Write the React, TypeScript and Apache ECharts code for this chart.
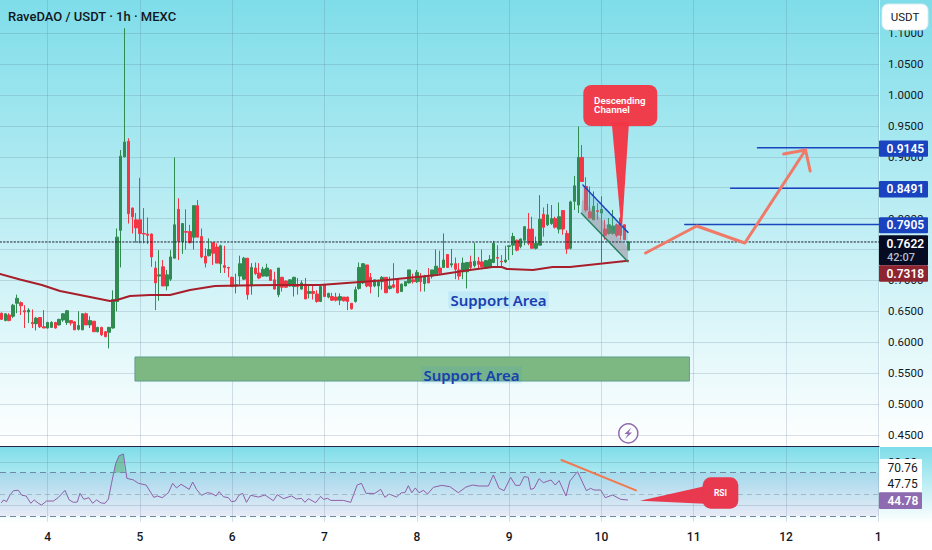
import React, { useEffect, useRef } from "react";
import * as echarts from "echarts";

const firstHour = -12;
// [open, close, low, high]
const candles: number[][] = [
[.647,.637,.636,.648],[.635,.646,.634,.647],[.644,.635,.634,.647],[.642,.660,.639,.662],[.663,.671,.647,.677],[.664,.659,.644,.666],[.651,.649,.623,.660],[.649,.652,.631,.655],[.632,.630,.623,.653],[.630,.639,.619,.641],
[.640,.625,.623,.640],[.625,.623,.623,.652],[.623,.632,.622,.633],[.624,.632,.623,.634],[.632,.623,.622,.633],[.628,.637,.627,.638],[.636,.646,.633,.647],[.632,.651,.628,.652],[.635,.631,.627,.636],[.633,.620,.620,.634],
[.621,.627,.619,.650],[.620,.646,.620,.647],[.646,.628,.628,.648],[.628,.635,.623,.642],[.634,.617,.617,.634],[.617,.624,.616,.625],[.624,.612,.610,.625],[.617,.609,.608,.618],[.616,.624,.590,.625],[.623,.669,.622,.684],
[.666,.770,.650,.784],[.781,.901,.721,.911],[.900,.924,.899,1.108],[.925,.808,.792,.930],[.817,.803,.776,.818],[.798,.785,.761,.809],[.798,.776,.760,.866],[.776,.775,.760,.817],[.775,.773,.759,.802],[.775,.738,.722,.776],
[.720,.696,.652,.731],[.707,.709,.667,.749],[.722,.691,.691,.733],[.691,.709,.684,.717],[.702,.738,.699,.749],[.736,.790,.736,.899],[.815,.763,.733,.833],[.763,.792,.743,.793],[.779,.778,.750,.815],[.779,.761,.760,.790],
[.770,.821,.750,.821],[.821,.770,.770,.830],[.771,.738,.736,.784],[.739,.728,.721,.752],[.740,.750,.739,.768],[.761,.744,.725,.761],[.754,.728,.728,.760],[.727,.756,.712,.758],[.724,.721,.712,.756],[.721,.720,.705,.722],
[.705,.690,.690,.706],[.691,.693,.679,.711],[.707,.727,.693,.740],[.702,.736,.701,.738],[.736,.677,.669,.736],[.691,.721,.677,.728],[.720,.711,.709,.729],[.712,.704,.702,.728],[.707,.718,.706,.722],[.707,.720,.706,.727],
[.717,.700,.700,.718],[.701,.686,.685,.714],[.677,.720,.673,.720],[.705,.689,.682,.706],[.699,.689,.688,.700],[.691,.701,.690,.702],[.690,.705,.674,.706],[.693,.690,.677,.704],[.686,.696,.685,.700],[.694,.670,.670,.704],
[.679,.682,.671,.694],[.682,.679,.669,.693],[.678,.666,.664,.684],[.666,.690,.665,.691],[.693,.674,.673,.693],[.673,.679,.671,.680],[.674,.668,.667,.680],[.673,.668,.666,.680],[.668,.674,.660,.679],[.673,.667,.666,.673],
[.673,.666,.652,.674],[.663,.654,.653,.663],[.666,.685,.664,.690],[.687,.721,.685,.729],[.696,.727,.694,.728],[.725,.691,.689,.725],[.705,.690,.679,.712],[.691,.701,.689,.701],[.691,.698,.673,.701],[.698,.705,.685,.707],
[.705,.680,.680,.705],[.687,.691,.685,.706],[.693,.689,.687,.728],[.702,.680,.679,.702],[.682,.694,.682,.695],[.691,.698,.691,.698],[.696,.717,.695,.717],[.701,.698,.695,.711],[.698,.713,.696,.717],[.706,.698,.682,.712],
[.695,.706,.682,.709],[.705,.696,.696,.720],[.707,.717,.703,.717],[.710,.723,.709,.750],[.720,.712,.709,.748],[.721,.733,.721,.776],[.742,.721,.720,.742],[.725,.727,.721,.751],[.727,.718,.702,.737],[.717,.707,.701,.728],
[.714,.728,.702,.737],[.714,.729,.687,.729],[.730,.721,.718,.740],[.724,.731,.721,.761],[.731,.726,.718,.738],[.730,.722,.721,.750],[.720,.732,.719,.733],[.721,.734,.720,.741],[.729,.760,.728,.764],[.737,.736,.723,.757],
[.731,.730,.721,.741],[.730,.733,.728,.756],[.755,.756,.733,.756],[.757,.771,.741,.777],[.765,.749,.747,.766],[.755,.767,.752,.768],[.765,.787,.757,.787],[.783,.760,.757,.809],[.783,.752,.752,.803],[.752,.760,.750,.771],
[.757,.799,.757,.838],[.807,.786,.771,.818],[.790,.806,.788,.824],[.792,.800,.790,.822],[.800,.786,.784,.803],[.783,.803,.776,.826],[.813,.783,.774,.813],[.776,.751,.743,.781],[.752,.827,.750,.829],[.828,.853,.814,.869],
[.822,.899,.809,.949],[.899,.860,.860,.919],[.852,.814,.811,.867],[.811,.801,.801,.852],[.798,.820,.798,.844],[.813,.811,.798,.825],[.809,.815,.729,.836],[.783,.773,.766,.798],[.776,.790,.774,.801],[.776,.788,.774,.814],
[.790,.773,.770,.792],[.801,.773,.766,.803],[.790,.766,.765,.790],[.749,.7622,.749,.763],
];
const emaPoints: number[][] = [
[-12.4,.7104],[-7.2,.7015],[-1.5,.6926],[3.2,.6829],[9.7,.6748],[16.2,.6667],[18,.6683],[21.4,.6748],[26.6,.6764],[31.8,.6764],[37,.6845],[43.5,.691],[50,.6918],[60.4,.6926],[70.8,.6926],[88.2,.7007],[101.2,.7088],[109.8,.7168],[115.7,.7217],[118.1,.7217],[119.4,.7185],[126.2,.7168],[131.3,.7217],[135.8,.7217],[150.9,.7318],
];
const rsiHours = [-12,-11.5,-10.7,-9.8,-8.9,-7.6,-6.7,-5.6,-4.4,-3.5,-2.4,-1.6,-.3,1.5,2.8,4.5,5.6,6.7,7.7,8.4,9.4,10.7,11.7,12.7,13.9,14.9,15.8,16.6,17.7,18.6,19.7,20.6,22.3,23.6,25.6,27.6,28.5,29.8,31.4,32.5,33.5,34.7,36.8,37.7,38.7,40,41.5,42.6,43.8,44.6,45.7,47,47.8,48.8,49.8,50.7,51.7,52.8,54.8,56.5,58.7,59.7,61.3,63.4,64.7,66,66.9,67.8,69.7,71,71.7,72.8,73.6,76.9,78.8,80.5,81.6,82.8,85.1,86.6,87.7,88.8,90.7,92,92.9,93.8,94.7,95.6,96.6,97.7,98.8,100.3,102.5,104.6,106.8,108.8,110.5,112.2,114.6,115.9,117.4,118.7,120.4,121.7,122.8,123.9,125,125.6,126.5,127.8,128.9,130.9,132,133,134.8,135.8,137.8,140.1,141.2,142.1,143.8,145,146.9,149,150.8];
const rsiValues = [42.3,44.8,43.2,49.4,53.4,53.7,49.1,48.5,41.7,44.8,41.7,40.1,43.8,43.8,47.2,53.7,44.8,42.6,42.9,50.9,45.4,46.9,41.7,44.8,42,41.7,45.7,60.2,78.7,85.8,87.3,64.8,63.3,60.2,58.6,47.2,48.5,46.9,51.5,60.2,55.9,59.3,54.6,61.4,54.6,49.1,51.5,50.9,48.5,52.5,47.8,46.9,43.2,43.8,49.4,50.9,42.6,49.1,47.5,49.4,44.1,49.7,46,48.5,45.7,46.3,42.6,46,42.3,48.1,45.4,46.3,44.4,44.4,42.6,58.6,60.2,50.9,50.9,54.6,47.2,50.3,47.5,51.5,51.5,58,51.5,55.9,51.5,53.7,50.3,56.5,58.3,57.1,51.5,56.8,58.6,57.7,57.7,67.9,55.6,53.4,65.7,58.3,58.3,66.4,65.7,54.6,55.6,64.5,60.8,63.3,58.6,62.7,48.5,62.3,71,53.4,55.6,54,54,46.9,49.4,45.4,44.78];
const rsiOverbought: number[][] = [[17.1,70],[17.7,78.7],[18.6,85.8],[19.7,87.3],[20.1,70]];

const dayHours = [0,24,48,72,96,120,144,168,192,216];
const dayLabels = ["4","5","6","7","8","9","10","11","12","1"];
const priceTicks = [.45,.5,.55,.6,.65,.7,.75,.8,.85,.9,.95,1,1.05,1.1];
const priceLabelTicks = [.45,.5,.55,.6,.65,.7,.8,.9,.95,1,1.05,1.1];
const levels = [
  { price: 0.9145, from: 184.6, label: "0.9145" },
  { price: 0.8491, from: 177.6, label: "0.8491" },
  { price: 0.7905, from: 165.7, label: "0.7905" },
];
const lastPrice = 0.7622;
const countdown = "42:07";
const emaLast = "0.7318";
const rsiLabels = ["70.76", "47.75", "44.78"];
const arrowPath = [[155.5,.7444],[168.8,.788],[181.3,.7605],[197.1,.911]];
const arrowHead = [[191.4,.9045],[197.1,.911],[198.3,.877]];
const rsiTrend = [[133.6,81.8],[153,53.7]];
const channelUpper = [[139.2,.8544],[150.9,.7778]];
const channelLower = [[138.8,.8086],[150.9,.7303]];
const supportZone = [[22.7,.5761],[166.9,.5372]];

const FONT = "Roboto";

function polySeries(points: number[][], fill: string, stroke?: string, z = 3) {
  return {
    type: "custom", xAxisIndex: 0, yAxisIndex: 0, z, silent: true, clip: true,
    data: [points[0]],
    encode: { x: 0, y: 1 },
    renderItem: (_: any, api: any) => ({
      type: "polygon",
      shape: { points: points.map((p) => api.coord(p)) },
      style: { fill, stroke: stroke || "none", lineWidth: 1 },
    }),
  };
}
function lineSeries(data: number[][], color: string, width: number, extra: any = {}, axis = 0) {
  return {
    type: "line", xAxisIndex: axis, yAxisIndex: axis, data, symbol: "none", silent: true, z: 4,
    lineStyle: { color, width, cap: "round", join: "round", ...(extra.lineStyle || {}) },
    ...Object.fromEntries(Object.entries(extra).filter(([k]) => k !== "lineStyle")),
  };
}
function tag(y0: number, y1: number, fill: string, text: string, x = 879, w = 49, color = "#fff", weight: any = 600, tx = 886.5) {
  return [
    { type: "rect", z: 50, shape: { x, y: y0, width: w, height: y1 - y0, r: 1 }, style: { fill } },
    { type: "text", z: 51, x: tx, y: (y0 + y1) / 2, style: { text, fill: color, font: `${weight} 12px ${FONT}`, textAlign: "left", textVerticalAlign: "middle" } },
  ];
}

export default function App() {
  const ref = useRef<HTMLDivElement>(null);
  useEffect(() => {
    const chart = echarts.init(ref.current!, undefined, { renderer: "svg" });
    const gridLine = { show: true, lineStyle: { color: "rgba(90,115,140,0.22)", width: 1 } };
    const channelMid = [
      [(channelUpper[0][0] + channelLower[0][0]) / 2, (channelUpper[0][1] + channelLower[0][1]) / 2],
      [(channelUpper[1][0] + channelLower[1][0]) / 2, (channelUpper[1][1] + channelLower[1][1]) / 2],
    ];
    const [sz0, sz1] = supportZone;
    chart.setOption({
      animation: false,
      backgroundColor: "transparent",
      title: {
        text: "RaveDAO / USDT · 1h · MEXC", left: 3, top: 4.5,
        textStyle: { fontFamily: FONT, fontSize: 13, fontWeight: 500, color: "#131722" },
      },
      grid: [
        { left: 0, top: 0, width: 879, height: 446 },
        { left: 0, top: 447, width: 879, height: 75 },
      ],
      xAxis: [
        {
          type: "value", gridIndex: 0, min: -12.4, max: 216.2,
          axisLine: { show: true, onZero: false, lineStyle: { color: "#23264a", width: 1 } },
          axisTick: { show: false, customValues: dayHours },
          axisLabel: { show: false, customValues: dayHours },
          splitLine: gridLine,
        },
        {
          type: "value", gridIndex: 1, min: -12.4, max: 216.2,
          axisLine: { show: false, onZero: false },
          axisTick: { show: false, customValues: dayHours },
          axisLabel: {
            show: true, customValues: dayHours, margin: 9,
            formatter: (v: number) => dayLabels[dayHours.indexOf(v)] ?? "",
            fontFamily: FONT, fontSize: 12, fontWeight: 500, color: "#131722",
          },
          splitLine: gridLine,
        },
      ],
      yAxis: [
        {
          type: "value", gridIndex: 0, position: "right", min: 0.4321, max: 1.1537,
          axisLine: { show: true, onZero: false, lineStyle: { color: "rgba(255,255,255,0.65)", width: 1 } },
          axisTick: { show: false, customValues: priceTicks },
          axisLabel: {
            show: true, customValues: priceLabelTicks, margin: 9, align: "left",
            formatter: (v: number) => v.toFixed(4),
            fontFamily: FONT, fontSize: 11.5, color: "#131722",
          },
          splitLine: gridLine,
        },
        {
          type: "value", gridIndex: 1, position: "right", min: 24.4, max: 93.8,
          axisLine: { show: true, onZero: false, lineStyle: { color: "rgba(255,255,255,0.65)", width: 1 } },
          axisTick: { show: false, customValues: [40, 80] },
          axisLabel: {
            show: true, customValues: [80], margin: 9, align: "left",
            formatter: (v: number) => v.toFixed(2),
            fontFamily: FONT, fontSize: 11.5, color: "#131722",
          },
          splitLine: gridLine,
        },
      ],
      series: [
        polySeries([[sz0[0], sz0[1]], [sz1[0], sz0[1]], [sz1[0], sz1[1]], [sz0[0], sz1[1]]], "#7db782", "#5f9f8e", 1),
        {
          type: "candlestick", xAxisIndex: 0, yAxisIndex: 0, z: 2, silent: true,
          barWidth: 3,
          data: candles.map((c, i) => [firstHour + i, ...c]),
          itemStyle: { color: "#2f8b4f", color0: "#f23645", borderColor: "#2f8b4f", borderColor0: "#f23645", borderWidth: 1 },
        },
        polySeries([channelUpper[0], channelUpper[1], channelLower[1], channelLower[0]], "rgba(90,180,200,0.28)"),
        polySeries([channelMid[0], channelMid[1], channelLower[1], channelLower[0]], "rgba(190,110,120,0.32)"),
        lineSeries(channelUpper, "#1a43c0", 1.5, { lineStyle: { type: [3, 1] } }),
        lineSeries(channelLower, "#2e8060", 1.5),
        lineSeries(emaPoints, "#a81f2b", 2, { smooth: false, z: 3 }),
        lineSeries([[-12.4, lastPrice], [216.2, lastPrice]], "#1a2030", 1, { lineStyle: { type: [1.5, 2] }, z: 3 }),
        ...levels.map((l) => lineSeries([[l.from, l.price], [216.2, l.price]], "#1a43c0", 1.5)),
        lineSeries(arrowPath, "#f07a68", 3, { z: 5 }),
        lineSeries(arrowHead, "#f07a68", 3, { z: 5 }),
        {
          ...lineSeries(rsiValues.map((v, i) => [rsiHours[i], v]), "#8e5fa8", 1, { z: 4 }, 1),
          markArea: { silent: true, itemStyle: { color: "rgba(126,87,194,0.10)" }, data: [[{ yAxis: 70 }, { yAxis: 30 }]] },
          markLine: {
            silent: true, symbol: "none", label: { show: false },
            data: [
              { yAxis: 70, lineStyle: { color: "#6f8aa3", type: [6, 4], width: 1 } },
              { yAxis: 50, lineStyle: { color: "#8fa8b8", type: [5, 4], width: 0.7 } },
              { yAxis: 30, lineStyle: { color: "#6f8aa3", type: [6, 4], width: 1 } },
            ],
          },
        },
        lineSeries(rsiOverbought, "rgba(0,0,0,0)", 0, {
          areaStyle: { origin: 70, color: "rgba(56,142,60,0.55)" }, z: 3,
        }, 1),
        lineSeries(rsiTrend, "#f07a50", 2, { z: 5 }, 1),
      ],
      graphic: [
        ...[0,1,2].flatMap((i) => {
          const ys = [[140.5, 156.7], [181, 197.5], [217.3, 233.3]][i];
          return tag(ys[0], ys[1], "#1a43c0", levels[i].label);
        }),
        { type: "rect", z: 50, shape: { x: 879, y: 235.3, width: 49, height: 30, r: 1 }, style: { fill: "#060b22" } },
        { type: "text", z: 51, x: 886.5, y: 243.5, style: { text: lastPrice.toFixed(4), fill: "#fff", font: `600 12px ${FONT}`, textVerticalAlign: "middle" } },
        { type: "text", z: 51, x: 887, y: 257, style: { text: countdown, fill: "#b8bcc8", font: `500 11px ${FONT}`, textVerticalAlign: "middle" } },
        ...tag(265.3, 281.7, "#8e2430", emaLast),
        { type: "rect", z: 50, shape: { x: 882, y: 4, width: 46, height: 26, r: 6 }, style: { fill: "#fff", stroke: "rgba(220,235,240,0.9)", lineWidth: 1 } },
        { type: "text", z: 51, x: 905, y: 17, style: { text: "USDT", fill: "#131722", font: `400 11.5px ${FONT}`, textAlign: "center", textVerticalAlign: "middle" } },
        ...tag(459, 476, "#fff", rsiLabels[0], 879, 43, "#131722", 400, 887.5),
        ...tag(476, 492.3, "#fff", rsiLabels[1], 879, 43, "#131722", 400, 887.5),
        ...tag(492.3, 509, "#8e6ab0", rsiLabels[2], 879, 43, "#fff", 600, 887.5),
        // Descending Channel callout
        { type: "polygon", z: 30, shape: { points: [[611.7, 122], [629, 122], [621.7, 233]] }, style: { fill: "rgba(242,54,69,0.96)" } },
        { type: "rect", z: 30, shape: { x: 583.3, y: 85, width: 74, height: 41, r: 8 }, style: { fill: "rgba(242,54,69,0.96)" } },
        { type: "text", z: 31, x: 594, y: 100, style: { text: "Descending", fill: "#fff", font: `600 9.8px ${FONT}`, textVerticalAlign: "middle" } },
        { type: "text", z: 31, x: 594, y: 109.5, style: { text: "Channel", fill: "#fff", font: `600 9.8px ${FONT}`, textVerticalAlign: "middle" } },
        // RSI callout
        { type: "polygon", z: 30, shape: { points: [[640, 500.7], [710, 485], [710, 504]] }, style: { fill: "#e8394f" } },
        { type: "rect", z: 30, shape: { x: 702.7, y: 477.3, width: 35.6, height: 31.4, r: 8 }, style: { fill: "#e8394f" } },
        { type: "text", z: 31, x: 720.5, y: 493, style: { text: "RSI", fill: "#fff", font: `700 8.5px ${FONT}`, textAlign: "center", textVerticalAlign: "middle" } },
        // Support labels
        { type: "text", z: 20, x: 498.5, y: 300, style: { text: "Support Area", fill: "#1a3fb0", font: `600 15px "Noto Sans"`, textAlign: "center", textVerticalAlign: "middle", backgroundColor: "rgba(33,150,243,0.10)", padding: [1, 2] } },
        { type: "text", z: 20, x: 471.5, y: 375, style: { text: "Support Area", fill: "#1a3fb0", font: `600 15px "Noto Sans"`, textAlign: "center", textVerticalAlign: "middle", backgroundColor: "rgba(33,150,243,0.10)", padding: [1, 2] } },
        // Lightning badge
        { type: "circle", z: 20, shape: { cx: 628.3, cy: 433.3, r: 9.5 }, style: { fill: "rgba(255,255,255,0.6)", stroke: "#8e6ab0", lineWidth: 1.5 } },
        { type: "polygon", z: 21, shape: { points: [[631.5, 427.5], [624.5, 434], [628, 434], [625, 439], [632, 432.5], [628.5, 432.5]] }, style: { fill: "#8e6ab0" } },
      ],
    });
    return () => chart.dispose();
  }, []);
  return (
    <div
      ref={ref}
      style={{
        position: "absolute", left: 0, top: 0, width: 932, height: 550,
        backgroundColor: "#fff",
        backgroundImage:
          "linear-gradient(180deg,#7edde9 0%,#ffffff 100%),linear-gradient(180deg,#7edde9 0%,#ffffff 100%)",
        backgroundRepeat: "no-repeat",
        backgroundSize: "932px 446px,932px 76px",
        backgroundPosition: "0 0,0 447px",
      }}
    />
  );
}
